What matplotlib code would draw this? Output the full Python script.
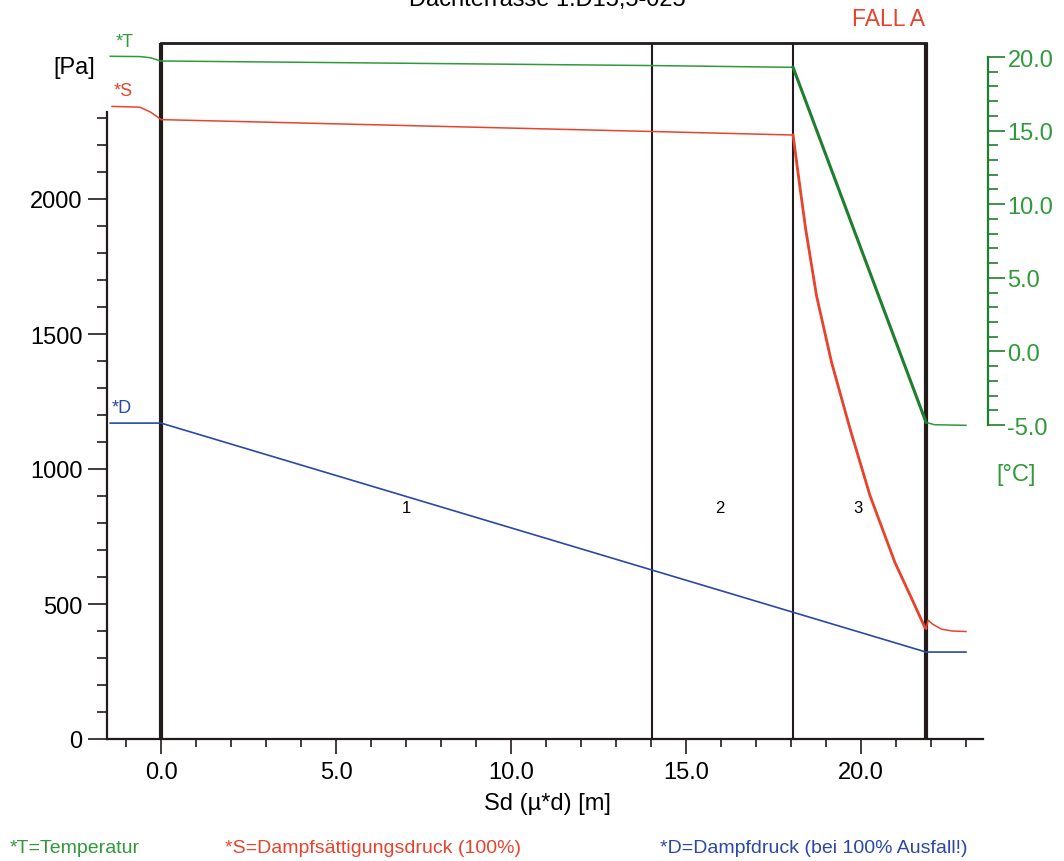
import matplotlib
matplotlib.use("Agg")
import matplotlib.pyplot as plt
import numpy as np

plt.rcParams["font.family"] = ["Liberation Sans", "DejaVu Sans"]

# layer boundaries on the Sd axis [m]
layer_bounds = [0.0, 14.03, 18.06, 21.86]
layer_names = ["1", "2", "3"]
layer_label_x = [7.0, 15.97, 19.91]
box_top = 2578

# *T temperature [C]
temp_x = [-1.45, -0.6, -0.3, -0.1, 0.0, 14.03, 18.06, 21.86, 22.1, 23.0]
temp_c = [20.05, 20.03, 19.95, 19.8, 19.73, 19.42, 19.30, -4.82, -4.98, -5.02]

# *S saturation pressure [Pa]
sat_x = [-1.4, -0.6, -0.3, -0.1, 0.0, 14.03, 18.06, 18.25, 18.42, 18.73, 19.16, 19.69,
         20.26, 20.97, 21.45, 21.83, 21.86, 21.92, 22.05, 22.3, 22.6, 23.0]
sat_pa = [2343, 2340, 2322, 2304, 2294, 2250, 2237, 2050, 1889, 1642, 1395, 1148,
          901, 654, 520, 412, 410, 440, 425, 407, 400, 398]
layer3 = slice(6, 17)

# *D vapour pressure [Pa]
vap_x = [-1.45, 0.0, 21.86, 23.0]
vap_pa = [1170, 1170, 322, 322]

green = "#2f9a3a"
dgreen = "#1f7f2c"
red = "#e8432c"
blue = "#2a48a8"
dark = "#231a1a"

fig = plt.figure(figsize=(10.64, 8.62), dpi=100)
ax = fig.add_axes([107 / 1064, 122 / 862, 881 / 1064, 702 / 862])
ax.set_xlim(-1.543, 23.63)
ax.set_ylim(0, 2600)

# layer box
for i, xb in enumerate(layer_bounds):
    thick = i == 0 or i == len(layer_bounds) - 1
    ax.plot([xb, xb], [0, box_top], color=dark, lw=3.0 if thick else 1.5, zorder=2,
            solid_capstyle="butt")
ax.plot([layer_bounds[0], layer_bounds[-1]], [box_top, box_top], color=dark, lw=2.0, zorder=2)

for name, lx in zip(layer_names, layer_label_x):
    ax.text(lx, 859, name, fontsize=12, ha="center", va="center")

# saturation + vapour pressure
ax.plot(sat_x, sat_pa, color=red, lw=1.1, zorder=4)
ax.plot(sat_x[layer3], sat_pa[layer3], color=red, lw=2.0, zorder=4)
ax.plot(vap_x, vap_pa, color=blue, lw=1.2, zorder=4)

ax.text(-1.35, 2400, "*S", color=red, fontsize=13, va="center")
ax.text(-1.4, 1226, "*D", color=blue, fontsize=13, va="center")
ax.text(-1.3, 2585, "*T", color=green, fontsize=13, va="center")

for s in ["top", "right"]:
    ax.spines[s].set_visible(False)
ax.spines["left"].set_bounds(0, 2322)
ax.spines["bottom"].set_bounds(-1.543, 23.5)
for s in ["left", "bottom"]:
    ax.spines[s].set_linewidth(1.6)
    ax.spines[s].set_color(dark)

ax.set_xticks([0, 5, 10, 15, 20])
ax.set_xticklabels(["0.0", "5.0", "10.0", "15.0", "20.0"])
ax.set_xticks(np.arange(-1, 24, 1), minor=True)
ax.set_yticks([0, 500, 1000, 1500, 2000])
ax.set_yticks(np.arange(0, 2400, 100), minor=True)
ax.tick_params(axis="x", which="major", length=11, width=1.2, labelsize=17, pad=5, color=dark)
ax.tick_params(axis="x", which="minor", length=6, width=1.2, color=dark)
ax.tick_params(axis="y", which="major", length=13.5, width=1.2, labelsize=17, pad=4, color=dark)
ax.tick_params(axis="y", which="minor", length=7, width=1.2, color=dark)
ax.set_xlabel("Sd (µ*d) [m]", fontsize=17, labelpad=6)

# temperature on twin axis
tx = ax.twinx()
tx.set_ylim(-26.33, 21.36)
tx.plot(temp_x, temp_c, color=green, lw=1.1, zorder=4)
tx.plot(temp_x[6:8], temp_c[6:8], color=dgreen, lw=2.2, zorder=4)
for s in ["top", "left", "bottom"]:
    tx.spines[s].set_visible(False)
tx.spines["right"].set_bounds(-5, 20)
tx.spines["right"].set_color(dgreen)
tx.spines["right"].set_linewidth(1.6)
tx.set_yticks([-5, 0, 5, 10, 15, 20])
tx.set_yticklabels(["-5.0", "0.0", "5.0", "10.0", "15.0", "20.0"])
tx.set_yticks(np.arange(-5, 21, 1), minor=True)
tx.tick_params(axis="y", which="major", length=12, width=1.2, labelsize=17, pad=2,
               color=dgreen, labelcolor=green)
tx.tick_params(axis="y", which="minor", length=7, width=1.2, color=dgreen)

fig.text(74 / 1064, 1 - 68 / 862, "[Pa]", fontsize=17, ha="center", va="center")
fig.text(1016 / 1064, 1 - 475 / 862, "[°C]", fontsize=17, ha="center", va="center", color=green)
fig.text(888 / 1064, 1 - 20 / 862, "FALL A", fontsize=16.5, ha="center", va="center", color=red)
fig.text(547 / 1064, 1 - 6 / 862, "Dachterrasse 1.D15,5-025", fontsize=17, ha="center",
         va="baseline")

fig.text(10 / 1064, 1 - 849 / 862, "*T=Temperatur", fontsize=14, color=green, va="center")
fig.text(225 / 1064, 1 - 849 / 862, "*S=Dampfsättigungsdruck (100%)", fontsize=14, color=red,
         va="center")
fig.text(660 / 1064, 1 - 849 / 862, "*D=Dampfdruck (bei 100% Ausfall!)", fontsize=14,
         color=blue, va="center")

fig.savefig("out.png", dpi=100, facecolor="white")
